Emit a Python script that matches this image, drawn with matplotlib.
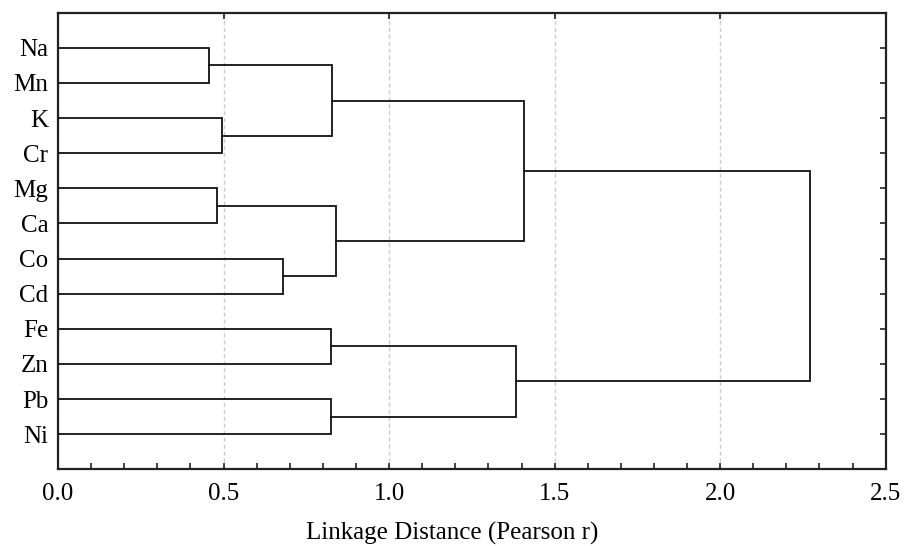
import matplotlib.pyplot as plt
from matplotlib.ticker import MultipleLocator

plt.rcParams["font.family"] = ["Liberation Serif", "DejaVu Serif"]

# leaves, top to bottom
labels = ["Na", "Mn", "K", "Cr", "Mg", "Ca", "Co", "Cd", "Fe", "Zn", "Pb", "Ni"]

# merges: ids 0-11 are leaves, each merge makes a new id starting at 12
merge_a = [0, 2, 4, 6, 8, 10, 12, 14, 16, 18, 20]
merge_b = [1, 3, 5, 7, 9, 11, 13, 15, 17, 19, 21]
merge_dist = [0.457, 0.496, 0.480, 0.679, 0.826, 0.826, 0.829, 0.841, 1.383, 1.409, 2.270]

fig = plt.figure(figsize=(9.14, 5.46), dpi=100)
ax = fig.add_axes([0.0635, 0.1405, 0.9055, 0.8362])

xs = {i: 0.0 for i in range(len(labels))}
ys = {i: float(i) for i in range(len(labels))}
for k, (a, b, d) in enumerate(zip(merge_a, merge_b, merge_dist)):
    ax.plot([xs[a], d, d, xs[b]], [ys[a], ys[a], ys[b], ys[b]],
            color="#111111", lw=1.3, solid_joinstyle="miter", zorder=3)
    new_id = len(labels) + k
    xs[new_id] = d
    ys[new_id] = (ys[a] + ys[b]) / 2

ax.set_xlim(0, 2.5)
ax.set_ylim(12, -1)

ax.set_yticks(range(len(labels)))
ax.set_yticklabels(labels)
ax.xaxis.set_major_locator(MultipleLocator(0.5))
ax.xaxis.set_minor_locator(MultipleLocator(0.1))
ax.xaxis.set_major_formatter(lambda v, p: f"{v:.1f}")

ax.tick_params(axis="x", which="both", direction="in", top=True, length=4,
               width=1.2, color="#222222", labelsize=18, pad=10)
ax.tick_params(axis="x", which="minor", top=False)
ax.tick_params(axis="y", which="both", direction="in", left=False, right=True,
               length=4, width=1.2, color="#222222", labelsize=18, pad=7)

ax.grid(axis="x", which="major", linestyle=(0, (3, 2)), color="#cccccc", lw=1)
ax.set_axisbelow(True)
for s in ax.spines.values():
    s.set_linewidth(1.6)
    s.set_color("#222222")

ax.set_xlabel("Linkage Distance (Pearson r)", fontsize=18, labelpad=12)
ax.xaxis.set_label_coords(0.476, -0.115)

plt.savefig("out.png", dpi=100)
